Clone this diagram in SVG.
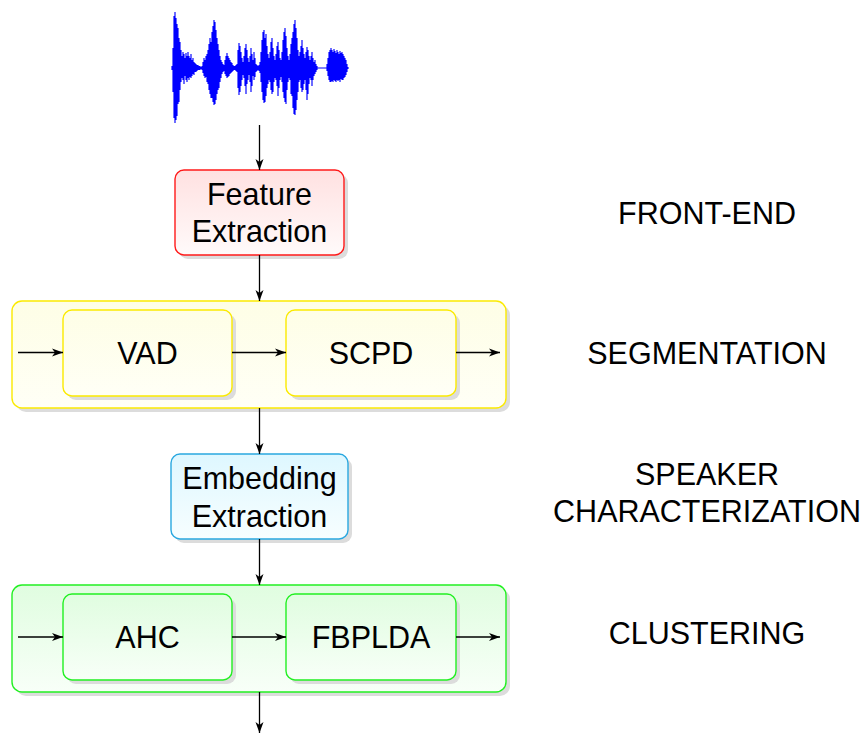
<svg xmlns="http://www.w3.org/2000/svg" width="864" height="733" viewBox="0 0 864 733">
<defs>
<linearGradient id="gRed" x1="0" y1="0" x2="0" y2="1"><stop offset="0" stop-color="#ffe1e1"/><stop offset="1" stop-color="#fffafa"/></linearGradient>
<linearGradient id="gYel" x1="0" y1="0" x2="0" y2="1"><stop offset="0" stop-color="#fefee6"/><stop offset="1" stop-color="#fffff6"/></linearGradient>
<linearGradient id="gBlue" x1="0" y1="0" x2="0" y2="1"><stop offset="0" stop-color="#def7ff"/><stop offset="1" stop-color="#f7feff"/></linearGradient>
<linearGradient id="gGrn" x1="0" y1="0" x2="0" y2="1"><stop offset="0" stop-color="#e0fde0"/><stop offset="1" stop-color="#f8fff8"/></linearGradient>
<marker id="arr" markerUnits="userSpaceOnUse" markerWidth="13" markerHeight="11" refX="11" refY="5.5" orient="auto">
<path d="M0,1.5 L11,5.5 L0,9.5 L3,5.5 z" fill="#000"/>
</marker>
</defs>
<style>
.shadow{fill:#dcdcdc}
.t{font-family:"Liberation Sans",Arial,sans-serif;font-size:30.5px;fill:#000;text-anchor:middle}
.c{stroke:#000;stroke-width:1.3;fill:none;marker-end:url(#arr)}
.red{fill:url(#gRed);stroke:#ff1a1a;stroke-width:1.4}
.yel{fill:url(#gYel);stroke:#fbea00;stroke-width:1.4}
.blu{fill:url(#gBlue);stroke:#2aa8e0;stroke-width:1.4}
.grn{fill:url(#gGrn);stroke:#22f022;stroke-width:1.4}
</style>

<g id="waveform" stroke="#0000ff" stroke-width="1.15" fill="none">
<path d="M172 68H348"/>
<path d="M172 66V70M173 48V92M174 16V118M175 12V123M176 18V120M177 24V116M178 28V104M179 38V102M180 42V90M181 50V82M182 56V78M183 52V80M184 54V84M185 58V76M186 53V80M187 56V82M188 52V78M189 56V80M190 58V77M191 54V78M192 60V76M193 58V74M194 62V75M195 63V72M196 64V72M197 65V71M198 65V70M199 66V70M200 66V70M201 67V69M202 66V70M203 62V73M204 58V76M205 60V78M206 56V77M207 54V82M208 50V84M209 44V90M210 38V94M211 42V98M212 32V98M213 26V102M214 20V105M215 22V104M216 30V100M217 38V94M218 44V90M219 50V88M220 56V82M221 60V78M222 62V74M223 64V72M224 65V71M225 60V74M226 56V76M227 53V78M228 56V77M229 58V76M230 60V74M231 62V73M232 63V72M233 65V71M234 66V70M235 66V70M236 65V71M237 64V72M238 50V88M239 43V95M240 46V92M241 52V86M242 58V80M243 62V75M244 56V78M245 48V86M246 44V94M247 50V84M248 58V80M249 62V75M250 56V82M251 48V92M252 54V86M253 60V76M254 52V80M255 58V77M256 64V72M257 65V71M258 66V70M259 65V71M260 62V73M261 52V82M262 40V92M263 32V100M264 30V103M265 38V102M266 34V96M267 46V88M268 54V84M269 58V80M270 52V82M271 42V90M272 38V94M273 48V92M274 56V82M275 60V78M276 54V80M277 46V86M278 42V96M279 50V88M280 58V80M281 60V77M282 52V82M283 40V92M284 32V98M285 28V102M286 36V104M287 48V90M288 56V82M289 60V78M290 54V80M291 44V94M292 38V96M293 32V108M294 24V114M295 20V115M296 28V110M297 38V100M298 50V92M299 56V82M300 52V80M301 46V88M302 40V92M303 48V90M304 54V84M305 58V80M306 52V90M307 47V100M308 50V94M309 56V84M310 60V78M311 56V80M312 52V86M313 58V80M314 62V76M315 60V74M316 64V72M317 66V70M327 64V71M328 58V76M329 52V80M330 50V82M331 48V82M332 50V81M333 52V82M334 49V80M335 51V81M336 53V82M337 50V80M338 52V81M339 54V80M340 51V82M341 53V79M342 52V80M343 54V80M344 56V78M345 58V77M346 60V75M347 64V72M348 67V69"/>
</g>

<g id="feature-extraction">
<rect class="shadow" x="179" y="174" width="169" height="85" rx="9"/>
<rect class="red" x="175" y="170" width="169" height="85" rx="9"/>
<text class="t" x="259.5" y="204.5">Feature</text>
<text class="t" x="259.5" y="241.5">Extraction</text>
</g>

<g id="segmentation">
<rect class="shadow" x="16" y="305" width="494" height="107" rx="10"/>
<rect class="yel" x="12" y="301" width="494" height="107" rx="10"/>
</g>
<g id="vad">
<rect class="shadow" x="67" y="314" width="169" height="86" rx="9"/>
<rect class="yel" x="63" y="310" width="169" height="86" rx="9"/>
<text class="t" x="147.5" y="363.5">VAD</text>
</g>
<g id="scpd">
<rect class="shadow" x="290" y="314" width="170" height="86" rx="9"/>
<rect class="yel" x="286" y="310" width="170" height="86" rx="9"/>
<text class="t" x="371" y="363.5">SCPD</text>
</g>

<g id="embedding-extraction">
<rect class="shadow" x="175" y="458" width="177" height="85" rx="9"/>
<rect class="blu" x="171" y="454" width="177" height="85" rx="9"/>
<text class="t" x="259.5" y="488.5">Embedding</text>
<text class="t" x="259.5" y="526.5">Extraction</text>
</g>

<g id="clustering">
<rect class="shadow" x="16" y="589" width="494" height="107" rx="10"/>
<rect class="grn" x="12" y="585" width="494" height="107" rx="10"/>
</g>
<g id="ahc">
<rect class="shadow" x="67" y="598" width="169" height="86" rx="9"/>
<rect class="grn" x="63" y="594" width="169" height="86" rx="9"/>
<text class="t" x="147.5" y="648">AHC</text>
</g>
<g id="fbplda">
<rect class="shadow" x="290" y="598" width="170" height="86" rx="9"/>
<rect class="grn" x="286" y="594" width="170" height="86" rx="9"/>
<text class="t" x="371" y="648">FBPLDA</text>
</g>

<g id="connectors">
<line class="c" x1="259.5" y1="125" x2="259.5" y2="170"/>
<line class="c" x1="259.5" y1="255" x2="259.5" y2="301"/>
<line class="c" x1="18" y1="352.5" x2="63" y2="352.5"/>
<line class="c" x1="232" y1="352.5" x2="286" y2="352.5"/>
<line class="c" x1="456" y1="352.5" x2="500" y2="352.5"/>
<line class="c" x1="259.5" y1="408" x2="259.5" y2="454"/>
<line class="c" x1="259.5" y1="539" x2="259.5" y2="585"/>
<line class="c" x1="18" y1="637" x2="63" y2="637"/>
<line class="c" x1="232" y1="637" x2="286" y2="637"/>
<line class="c" x1="456" y1="637" x2="500" y2="637"/>
<line class="c" x1="259.5" y1="692" x2="259.5" y2="733"/>
</g>

<g id="labels">
<text class="t" x="707" y="224">FRONT-END</text>
<text class="t" x="707" y="364">SEGMENTATION</text>
<text class="t" x="707" y="485">SPEAKER</text>
<text class="t" x="707" y="522">CHARACTERIZATION</text>
<text class="t" x="707" y="644">CLUSTERING</text>
</g>
</svg>
